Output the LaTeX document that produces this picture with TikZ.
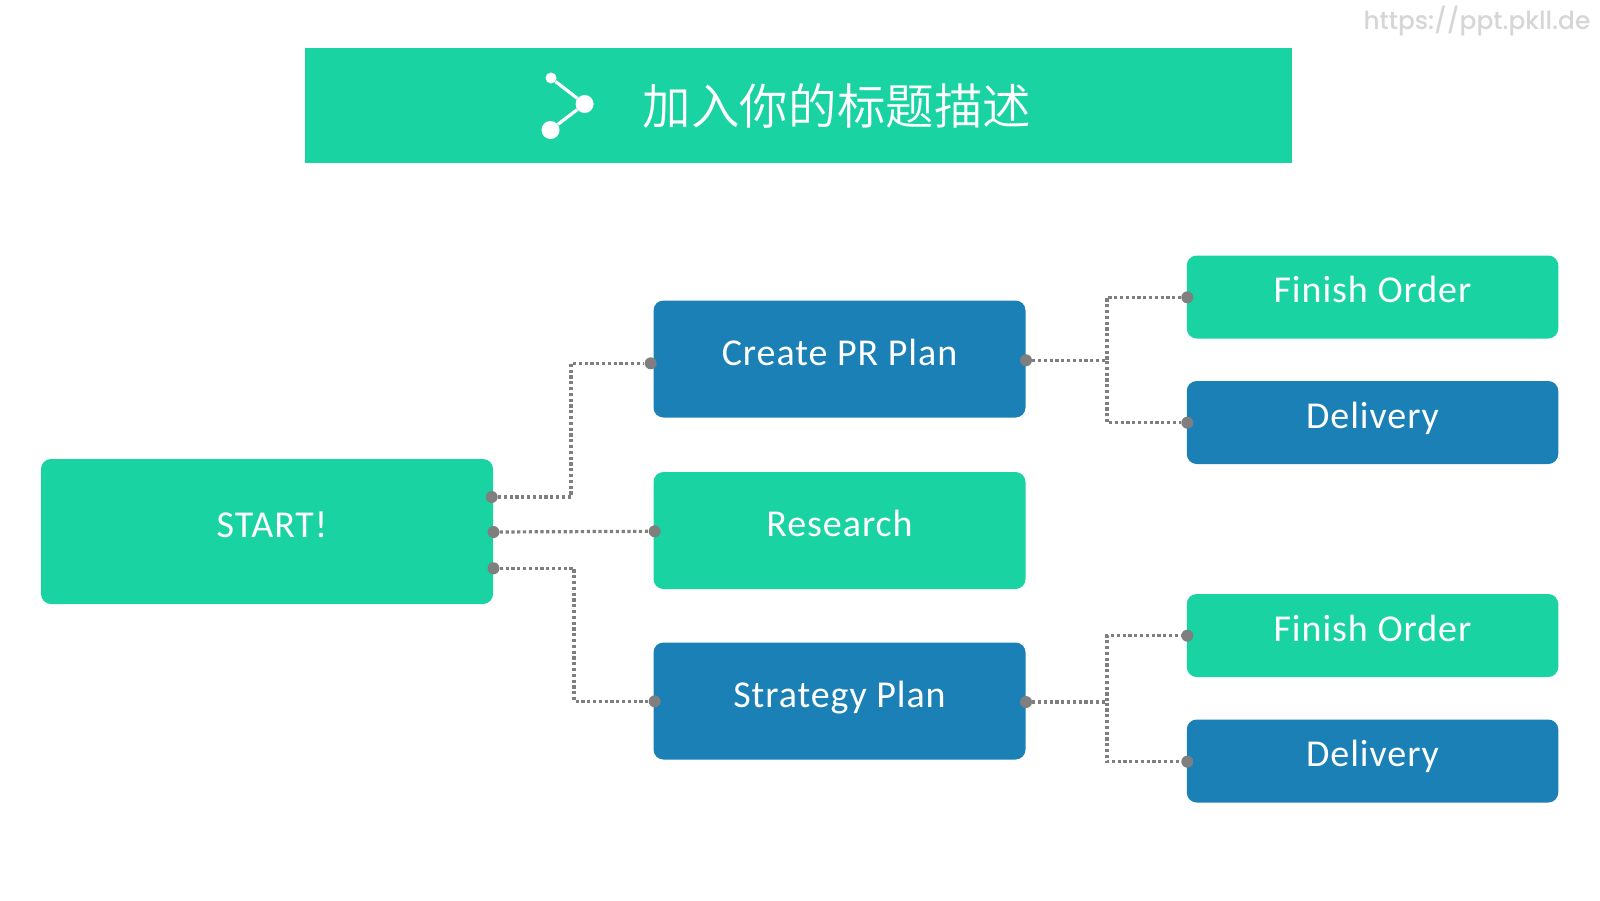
\documentclass[tikz,border=0pt]{standalone}
\usepackage{fontspec}
\setmainfont[LetterSpace=2.5]{Carlito}
\newfontfamily\cjk{Noto Sans CJK SC DemiLight}
\newfontfamily\wm{Poppins Medium}
\definecolor{tealc}{HTML}{1AD3A3}
\definecolor{bluec}{HTML}{1A80B6}
\definecolor{dotc}{HTML}{7F7F7F}
\definecolor{wmc}{HTML}{D6D6D6}
\newcommand{\up}[1]{\raisebox{10.2pt}{#1}}
\newcommand{\upb}[1]{\raisebox{11.2pt}{#1}}
\tikzset{
  boxn/.style={draw=none,rounded corners=7.5pt,text=white,inner sep=0pt,font=\fontsize{28.5}{32}\selectfont},
  teal box/.style={boxn,fill=tealc},
  blue box/.style={boxn,fill=bluec},
  large/.style={minimum width=372*0.75pt,minimum height=117*0.75pt},
  small/.style={minimum width=371.5*0.75pt,minimum height=83*0.75pt},
  portdot/.style={circle,fill=dotc,inner sep=0pt,minimum size=12*0.75pt},
  conn/.style={draw=dotc,line width=2.4pt,dash pattern=on 2.4pt off 1.95pt},
  icondot/.style={circle,fill=white,inner sep=0pt},
}
\begin{document}
\begin{tikzpicture}[x=0.75pt,y=-0.75pt]
\useasboundingbox (0,0) rectangle (1600,900);
\fill[white] (0,0) rectangle (1600,900);
\node[anchor=east,text=wmc,font=\wm\fontsize{18.6}{24}\selectfont] (wm) at (1595,21) {https://ppt.pkll.de};
\node[fill=tealc,inner sep=0pt,minimum width=987*0.75pt,minimum height=115*0.75pt] (bar) at (798.5,105.5) {};
\node[text=white,inner sep=0pt,font=\cjk\fontsize{36.4}{40}\selectfont] (title) at (837,106) {加入你的标题描述};
\node[icondot,minimum size=11*0.75pt] (ic1) at (551,78) {};
\node[icondot,minimum size=18*0.75pt] (ic2) at (584.6,104) {};
\node[icondot,minimum size=18*0.75pt] (ic3) at (550.5,130) {};
\draw[white,line width=2.4pt] (ic1) -- (ic2) -- (ic3);

\node[teal box,minimum width=452*0.75pt,minimum height=145*0.75pt] (start) at (267,531.5) {\hspace*{7.5pt}\raisebox{11pt}{START!}};
\node[blue box,large] (create) at (839.5,359) {\up{Create PR Plan}};
\node[teal box,large] (research) at (839.5,530.5) {\up{Research}};
\node[blue box,large] (strategy) at (839.5,701) {\up{Strategy Plan}};
\node[teal box,small] (fo1) at (1372.5,297) {\upb{Finish Order}};
\node[blue box,small] (del1) at (1372.5,422.5) {\upb{Delivery}};
\node[teal box,small] (fo2) at (1372.5,635.5) {\upb{Finish Order}};
\node[blue box,small] (del2) at (1372.5,761) {\upb{Delivery}};

\node[portdot] (s1) at (491.7,497) {};
\node[portdot] (s2) at (493.5,532) {};
\node[portdot] (s3) at (493.5,568.3) {};
\node[portdot] (c1) at (650.7,363.3) {};
\node[portdot] (r1) at (654.7,531.3) {};
\node[portdot] (p1) at (654.7,701.3) {};
\node[portdot] (c2) at (1026,360.3) {};
\node[portdot] (f1) at (1187.3,297.3) {};
\node[portdot] (d1) at (1187.3,422.7) {};
\node[portdot] (p2) at (1026,702) {};
\node[portdot] (f2) at (1187.3,635.7) {};
\node[portdot] (d2) at (1187.3,761.7) {};
\coordinate (j1) at (571,363.3);
\coordinate (j2) at (574,701.3);
\coordinate (j3) at (1107,297.3);
\coordinate (j4) at (1107,635.7);
\draw[conn] (s1) -| (j1) -- (c1);
\draw[conn] (s2) -- (r1);
\draw[conn] (s3) -| (j2) -- (p1);
\draw[conn] (c2) -| (j3) -- (f1);
\draw[conn] (c2) -| (j3 |- d1) -- (d1);
\draw[conn] (p2) -| (j4) -- (f2);
\draw[conn] (p2) -| (j4 |- d2) -- (d2);
\end{tikzpicture}
\end{document}
